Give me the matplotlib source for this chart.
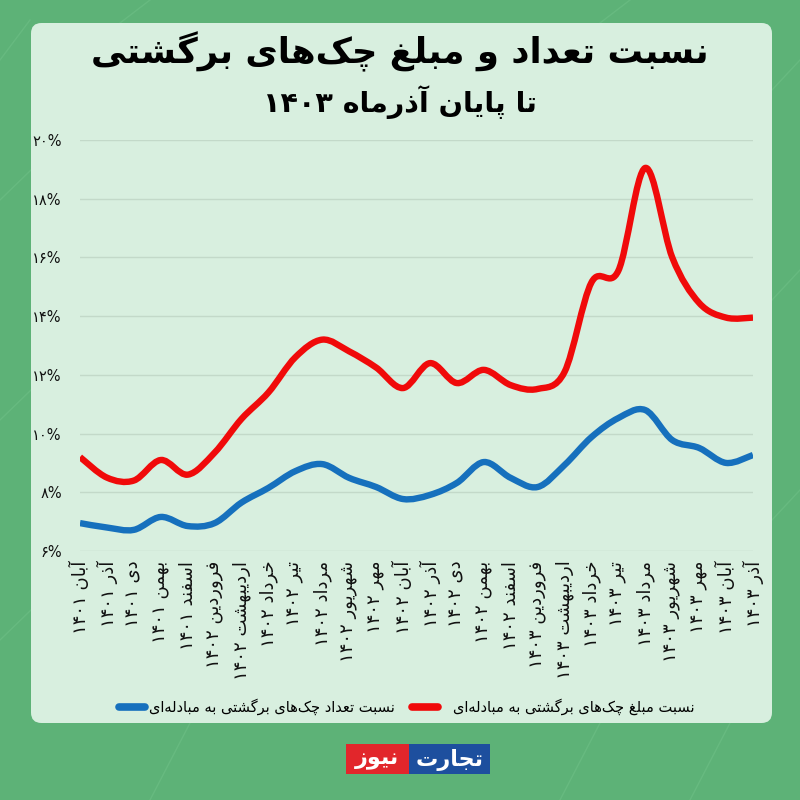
import matplotlib
matplotlib.use("Agg")
import matplotlib.pyplot as plt
from matplotlib.patches import FancyBboxPatch, PathPatch, Rectangle
from matplotlib.path import Path
from matplotlib.lines import Line2D

# ---- data ----
months = ["آبان ۱۴۰۱", "آذر ۱۴۰۱", "دی ۱۴۰۱", "بهمن ۱۴۰۱", "اسفند ۱۴۰۱",
          "فروردین ۱۴۰۲", "اردیبهشت ۱۴۰۲", "خرداد ۱۴۰۲", "تیر ۱۴۰۲", "مرداد ۱۴۰۲",
          "شهریور ۱۴۰۲", "مهر ۱۴۰۲", "آبان ۱۴۰۲", "آذر ۱۴۰۲", "دی ۱۴۰۲",
          "بهمن ۱۴۰۲", "اسفند ۱۴۰۲", "فروردین ۱۴۰۳", "اردیبهشت ۱۴۰۳", "خرداد ۱۴۰۳",
          "تیر ۱۴۰۳", "مرداد ۱۴۰۳", "شهریور ۱۴۰۳", "مهر ۱۴۰۳", "آبان ۱۴۰۳", "آذر ۱۴۰۳"]
amount_ratio = [9.2, 8.5, 8.4, 9.1, 8.6, 9.35, 10.5, 11.4, 12.6, 13.2, 12.8, 12.25, 11.55,
                12.4, 11.72, 12.17, 11.65, 11.52, 12.1, 15.15, 15.55, 19.05, 16.0, 14.45, 13.95, 13.95]
count_ratio = [6.95, 6.8, 6.72, 7.16, 6.85, 6.95, 7.65, 8.15, 8.72, 8.96, 8.49, 8.18, 7.77,
               7.91, 8.32, 9.03, 8.49, 8.18, 8.93, 9.88, 10.53, 10.8, 9.78, 9.51, 9.0, 9.27]
y_ticks = [6, 8, 10, 12, 14, 16, 18, 20]

title = "نسبت تعداد و مبلغ چک‌های برگشتی"
subtitle = "تا پایان آذرماه ۱۴۰۳"
amount_name = "نسبت مبلغ چک‌های برگشتی به مبادله‌ای"
count_name = "نسبت تعداد چک‌های برگشتی به مبادله‌ای"

RED = "#f00a0a"
BLUE = "#1670bd"

# ---- tiny arabic/persian shaper (matplotlib has no shaping / bidi) ----
DUAL = {0x0628: 0xFE8F, 0x062A: 0xFE95, 0x062C: 0xFE9D, 0x062E: 0xFEA5, 0x0633: 0xFEB1,
        0x0634: 0xFEB5, 0x0639: 0xFEC9, 0x063A: 0xFECD, 0x0641: 0xFED1, 0x0644: 0xFEDD,
        0x0645: 0xFEE1, 0x0646: 0xFEE5, 0x0647: 0xFEE9, 0x067E: 0xFB56, 0x0686: 0xFB7A,
        0x06A9: 0xFB8E, 0x06AF: 0xFB92, 0x06CC: 0xFBFC}
RIGHT = {0x0622: 0xFE81, 0x0627: 0xFE8D, 0x062F: 0xFEA9, 0x0630: 0xFEAB, 0x0631: 0xFEAD,
         0x0632: 0xFEAF, 0x0648: 0xFEED, 0x0698: 0xFB8A}


def fa(text):
    chars = list(text)
    out = []
    for i, ch in enumerate(chars):
        c = ord(ch)
        if ch == "\u200c":
            continue
        if c not in DUAL and c not in RIGHT:
            out.append(ch)
            continue
        prev = ord(chars[i - 1]) if i > 0 else 0
        nxt = ord(chars[i + 1]) if i + 1 < len(chars) else 0
        join_prev = prev in DUAL
        join_next = c in DUAL and (nxt in DUAL or nxt in RIGHT)
        base = DUAL.get(c, RIGHT.get(c))
        if join_prev and join_next:
            out.append(chr(base + 3))
        elif join_prev:
            out.append(chr(base + 1))
        elif join_next:
            out.append(chr(base + 2))
        else:
            out.append(chr(base))
    out = out[::-1]
    res, run = [], []
    for ch in out:
        if ch.isdigit() or ch == "%":
            run.append(ch)
        else:
            res.extend(run[::-1])
            run = []
            res.append(ch)
    res.extend(run[::-1])
    return "".join(res)


def fa_num(n):
    return "".join(chr(0x06F0 + int(d)) if d.isdigit() else d for d in str(n))


def smooth_path(xs, ys):
    # catmull-rom -> cubic bezier segments
    verts = [(xs[0], ys[0])]
    codes = [Path.MOVETO]
    n = len(xs)
    for i in range(n - 1):
        i0, i3 = max(i - 1, 0), min(i + 2, n - 1)
        c1 = (xs[i] + (xs[i + 1] - xs[i0]) / 6, ys[i] + (ys[i + 1] - ys[i0]) / 6)
        c2 = (xs[i + 1] - (xs[i3] - xs[i]) / 6, ys[i + 1] - (ys[i3] - ys[i]) / 6)
        verts += [c1, c2, (xs[i + 1], ys[i + 1])]
        codes += [Path.CURVE4] * 3
    return Path(verts, codes)


plt.rcParams["font.family"] = ["DejaVu Sans"]

fig = plt.figure(figsize=(8, 8), dpi=100)
fig.patch.set_facecolor("#5db277")

# faint circuit-like decoration on the green border
deco = "#67ba80"
for x0, y0, x1, y1 in [(0, 60, 30, 20), (0, 200, 31, 170), (0, 420, 31, 390), (0, 640, 31, 610),
                       (772, 90, 800, 60), (772, 300, 800, 270), (772, 520, 800, 490),
                       (120, 23, 150, 0), (600, 23, 630, 0), (150, 800, 190, 723),
                       (560, 800, 600, 723), (690, 800, 730, 723)]:
    fig.add_artist(Line2D([x0 / 800, x1 / 800], [1 - y0 / 800, 1 - y1 / 800], color=deco,
                          lw=1.0, transform=fig.transFigure, zorder=-6))

panel = FancyBboxPatch((31 / 800, 1 - 723 / 800), 741 / 800, 700 / 800,
                       boxstyle="round,pad=0,rounding_size=0.013",
                       transform=fig.transFigure, facecolor="#d8efdf",
                       edgecolor="none", zorder=-5)
fig.patches.append(panel)

ax = fig.add_axes([80 / 800, 1 - 551 / 800, 673 / 800, 411 / 800])
ax.set_facecolor("none")
x = list(range(len(months)))

for vals, col in [(count_ratio, BLUE), (amount_ratio, RED)]:
    ax.add_patch(PathPatch(smooth_path(x, vals), fill=False, edgecolor=col, lw=4.6,
                           capstyle="butt", joinstyle="round", zorder=3))

ax.set_xlim(0, 25)
ax.set_ylim(6, 20)
ax.set_yticks(y_ticks)
ax.set_yticklabels([fa_num(v) + "%" for v in y_ticks], fontsize=10.5)
ax.set_xticks(x)
ax.set_xticklabels([fa(m) for m in months], rotation=90, fontsize=13)
ax.tick_params(axis="both", length=0, colors="#111111")
ax.tick_params(axis="y", pad=13)
ax.tick_params(axis="x", pad=7)
ax.yaxis.grid(True, color="#c3d9c9", lw=1)
ax.set_axisbelow(True)
for s in ax.spines.values():
    s.set_visible(False)

fig.text(0.5, 1 - 52 / 800, fa(title), ha="center", va="center",
         fontsize=25.5, fontweight="bold", color="#000000")
fig.text(0.5, 1 - 102 / 800, fa(subtitle), ha="center", va="center",
         fontsize=20.5, fontweight="bold", color="#000000")

# legend (rtl: text, then its marker on the left)
ly = 1 - 707 / 800
fig.text(695 / 800, ly, fa(amount_name), ha="right", va="center", fontsize=10.5)
fig.add_artist(Line2D([412 / 800, 438 / 800], [ly, ly], color=RED, lw=5.5,
                      solid_capstyle="round", transform=fig.transFigure))
fig.text(395 / 800, ly, fa(count_name), ha="right", va="center", fontsize=10.5)
fig.add_artist(Line2D([119 / 800, 145 / 800], [ly, ly], color=BLUE, lw=5.5,
                      solid_capstyle="round", transform=fig.transFigure))

# logo
fig.patches.append(Rectangle((409 / 800, 1 - 774 / 800), 81 / 800, 30 / 800,
                             transform=fig.transFigure, facecolor="#1d4f9e", edgecolor="none"))
fig.patches.append(Rectangle((346 / 800, 1 - 774 / 800), 63 / 800, 30 / 800,
                             transform=fig.transFigure, facecolor="#e2262b", edgecolor="none"))
fig.text(449.5 / 800, 1 - 760 / 800, fa("تجارت"), ha="center", va="center",
         fontsize=16, fontweight="bold", color="white")
fig.text(377.5 / 800, 1 - 760 / 800, fa("نیوز"), ha="center", va="center",
         fontsize=16, fontweight="bold", color="white")

fig.savefig("out.png", dpi=100, facecolor=fig.get_facecolor())
